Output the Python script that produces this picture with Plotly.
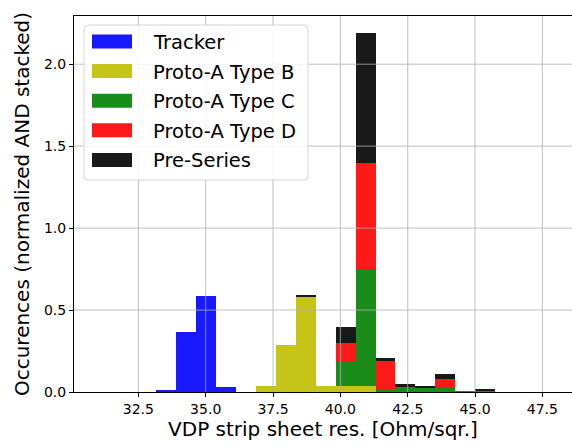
import numpy as np
import plotly.graph_objects as go

# Shared histogram bin edges (Ohm/sqr.)
bin_edges = [33.157, 33.898, 34.638, 35.379, 36.120, 36.861, 37.601, 38.342,
             39.083, 39.823, 40.564, 41.305, 42.046, 42.786, 43.527, 44.268,
             45.008, 45.749]

# Normalised occurrences per bin, stacked bottom to top in this order
tracker = [0.008, 0.364, 0.588, 0.029, 0, 0, 0, 0, 0, 0, 0, 0, 0, 0, 0, 0, 0]
type_b = [0, 0, 0, 0, 0, 0.038, 0.287, 0.578, 0.038, 0.038, 0.038, 0, 0, 0, 0, 0, 0]
type_c = [0, 0, 0, 0, 0, 0, 0, 0, 0, 0.145, 0.711, 0.018, 0.030, 0.027, 0.026, 0.006, 0.010]
type_d = [0, 0, 0, 0, 0, 0, 0, 0, 0, 0.114, 0.646, 0.175, 0, 0, 0.055, 0, 0]
pre_series = [0, 0, 0, 0, 0, 0, 0, 0.014, 0, 0.098, 0.797, 0.012, 0.021, 0.012, 0.029, 0, 0.005]

series_names = ["Tracker", "Proto-A Type B", "Proto-A Type C", "Proto-A Type D", "Pre-Series"]
series_values = [tracker, type_b, type_c, type_d, pre_series]
series_colors = ["#1919ff", "#c5c519", "#198c19", "#ff1919", "#191919"]

x_ticks = [32.5, 35.0, 37.5, 40.0, 42.5, 45.0, 47.5]
x_tick_labels = ["32.5", "35.0", "37.5", "40.0", "42.5", "45.0", "47.5"]
y_ticks = [0.0, 0.5, 1.0, 1.5, 2.0]
y_tick_labels = ["0.0", "0.5", "1.0", "1.5", "2.0"]

x_title = "VDP strip sheet res. [Ohm/sqr.]"
y_title = "Occurences (normalized AND stacked)"

FONT = "DejaVu Sans"
W, H = 572, 446
ML, MR, MT, MB = 74, 0, 16, 54
PW, PH = W - ML - MR, H - MT - MB
X_RANGE = [30.11, 48.60]
Y_RANGE = [0, 2.294]

edges = np.array(bin_edges)
centers = (edges[:-1] + edges[1:]) / 2
widths = np.diff(edges)

fig = go.Figure()
for name, vals, col in zip(series_names, series_values, series_colors):
    fig.add_trace(go.Bar(
        x=centers, y=vals, width=widths, name=name,
        marker=dict(color=col, line=dict(width=0)),
        showlegend=False, hoverinfo="x+y+name",
    ))


def px_x(p):
    return (p - ML) / PW


def px_y(p):
    return (MT + PH - p) / PH


shapes = []
# grid drawn over the bars
for v in x_ticks:
    shapes.append(dict(type="line", xref="x", yref="paper", x0=v, x1=v, y0=0, y1=1,
                       line=dict(color="#b0b0b0", width=0.8), layer="above"))
for v in y_ticks[1:]:
    shapes.append(dict(type="line", xref="paper", yref="y", x0=0, x1=1, y0=v, y1=v,
                       line=dict(color="#b0b0b0", width=0.8), layer="above"))

# legend frame with rounded corners
lx0, lx1, ly0, ly1, r = 84, 308, 25, 180, 4
pts = [
    ("M", lx0 + r, ly0), ("L", lx1 - r, ly0), ("Q", lx1, ly0, lx1, ly0 + r),
    ("L", lx1, ly1 - r), ("Q", lx1, ly1, lx1 - r, ly1), ("L", lx0 + r, ly1),
    ("Q", lx0, ly1, lx0, ly1 - r), ("L", lx0, ly0 + r), ("Q", lx0, ly0, lx0 + r, ly0),
]
path = ""
for seg in pts:
    cmd, coords = seg[0], seg[1:]
    parts = []
    for i in range(0, len(coords), 2):
        parts.append(f"{px_x(coords[i]):.5f},{px_y(coords[i + 1]):.5f}")
    path += cmd + " ".join(parts) + " "
path += "Z"
shapes.append(dict(type="path", xref="paper", yref="paper", path=path,
                   fillcolor="rgba(255,255,255,0.85)", line=dict(color="#d6d6d6", width=1),
                   layer="above"))

annotations = []
row0, row_step = 41.5, 29.6
for i, (name, col) in enumerate(zip(series_names, series_colors)):
    cy = row0 + i * row_step
    shapes.append(dict(type="rect", xref="paper", yref="paper",
                       x0=px_x(92), x1=px_x(132), y0=px_y(cy - 7), y1=px_y(cy + 7),
                       fillcolor=col, line=dict(width=0), layer="above"))
    annotations.append(dict(text=name, xref="paper", yref="paper", x=px_x(151), y=px_y(cy + 1),
                            xanchor="left", yanchor="middle", showarrow=False,
                            font=dict(family=FONT, size=19.5, color="#000000")))

axis_common = dict(showline=True, linecolor="#000000", linewidth=1, ticks="outside",
                   ticklen=4, tickwidth=1, tickcolor="#000000", showgrid=False,
                   zeroline=False, layer="above traces",
                   tickfont=dict(family=FONT, size=14, color="#000000"))

fig.update_layout(
    width=W, height=H, margin=dict(l=ML, r=MR, t=MT, b=MB, pad=0),
    paper_bgcolor="white", plot_bgcolor="white", barmode="stack", bargap=0,
    font=dict(family=FONT, color="#000000"),
    xaxis=dict(range=X_RANGE, tickvals=x_ticks, ticktext=x_tick_labels, mirror=True,
               title=dict(text=x_title, font=dict(family=FONT, size=20), standoff=6),
               **axis_common),
    yaxis=dict(range=Y_RANGE, tickvals=y_ticks, ticktext=y_tick_labels,
               title=dict(text=y_title, font=dict(family=FONT, size=20), standoff=8),
               **axis_common),
    shapes=shapes, annotations=annotations,
)

fig.write_html("out.html")
